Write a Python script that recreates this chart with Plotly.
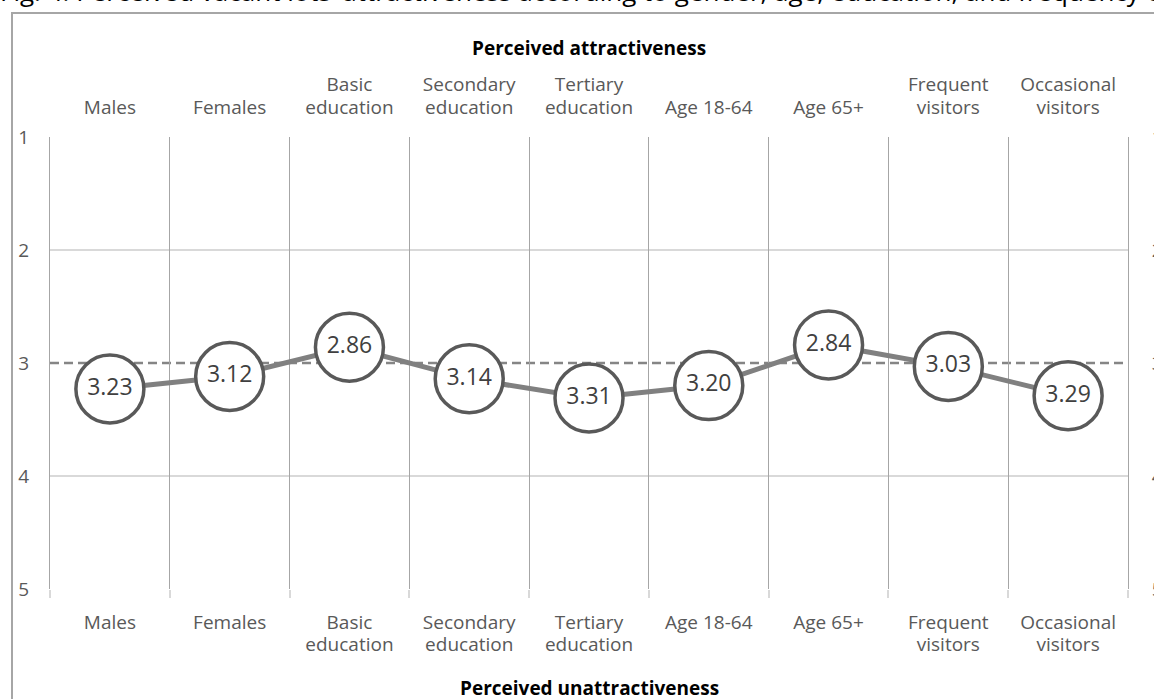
import plotly.graph_objects as go

categories = ["Males", "Females", "Basic<br>education", "Secondary<br>education",
              "Tertiary<br>education", "Age 18-64", "Age 65+",
              "Frequent<br>visitors", "Occasional<br>visitors"]
values = [3.23, 3.12, 2.86, 3.14, 3.31, 3.20, 2.84, 3.03, 3.29]
y_ticks = [1, 2, 3, 4, 5]
midpoint = 3

FONT = "Open Sans"
W, H = 1154, 699
ML, MR, MT, MB = 50, 26, 137, 110
PW = W - ML - MR
PH = H - MT - MB
LABEL_PX = 19


def px_x(p):
    return (p - ML) / PW


def px_y(p):
    return (H - MB - p) / PH


def styled(label):
    return "<br>".join(f'<span style="font-size:{LABEL_PX}px">{part}</span>'
                       for part in label.split("<br>"))


tick_text = [styled(c) for c in categories]
grid_vals = [t for t in y_ticks if t != midpoint]

fig = go.Figure()

fig.add_trace(go.Scatter(
    x=categories, y=values, mode="lines+markers+text",
    line=dict(color="#808080", width=5),
    marker=dict(size=68, color="white", line=dict(color="#595959", width=3.5)),
    text=[f"{v:.2f}" for v in values], textposition="middle center",
    textfont=dict(family=FONT, size=23, color="#404040"),
    showlegend=False, hoverinfo="skip", cliponaxis=False,
))
fig.add_trace(go.Scatter(
    x=categories, y=values, xaxis="x2", yaxis="y2", mode="markers",
    marker=dict(opacity=0), showlegend=False, hoverinfo="skip",
))

fig.add_shape(type="line", xref="x domain", x0=0, x1=1, yref="y", y0=midpoint, y1=midpoint,
              line=dict(color="#858585", width=2.5, dash="9px,5px"), layer="below")

# outer frame
fig.add_shape(type="rect", xref="paper", yref="paper",
              x0=px_x(12), x1=px_x(1200), y0=px_y(760), y1=px_y(13),
              line=dict(color="#a6a6a6", width=2), fillcolor="rgba(0,0,0,0)", layer="below")

fig.add_annotation(text="Fig. 4. Perceived vacant lots\u2019 attractiveness according to gender, age, education, and frequency of",
                   xref="paper", yref="paper", x=px_x(-2), y=px_y(11), xanchor="left", yanchor="bottom",
                   showarrow=False, font=dict(family=FONT, size=26, color="#000000"))
fig.add_annotation(text="<b>Perceived attractiveness</b>", xref="paper", yref="paper",
                   x=0.5, y=px_y(48), xanchor="center", yanchor="middle", showarrow=False,
                   font=dict(family=FONT, size=19, color="#000000"))
fig.add_annotation(text="<b>Perceived unattractiveness</b>", xref="paper", yref="paper",
                   x=0.5, y=px_y(688), xanchor="center", yanchor="middle", showarrow=False,
                   font=dict(family=FONT, size=19, color="#000000"))

tickfont = dict(family=FONT, size=17, color="#595959")
yfont = dict(family=FONT, size=19, color="#595959")

fig.update_layout(
    width=W, height=H,
    margin=dict(l=ML, r=MR, t=MT, b=MB, pad=0, autoexpand=False),
    paper_bgcolor="white", plot_bgcolor="white",
    xaxis=dict(type="category", categoryorder="array", categoryarray=categories,
               tickmode="array", tickvals=categories, ticktext=tick_text,
               tickson="boundaries", showgrid=True, gridcolor="#a6a6a6", gridwidth=1,
               ticks="outside", ticklen=8, tickcolor="#d9d9d9", tickwidth=2,
               tickfont=tickfont, ticklabelstandoff=22, showline=False, zeroline=False,
               range=[-0.5, 8.5], automargin=False),
    xaxis2=dict(type="category", categoryorder="array", categoryarray=categories,
                tickmode="array", tickvals=categories, ticktext=tick_text,
                overlaying="x", side="top", showgrid=False, ticks="",
                tickfont=tickfont, ticklabelstandoff=19, showline=False, zeroline=False,
                range=[-0.5, 8.5], automargin=False),
    yaxis=dict(range=[5, 1], tickvals=y_ticks, showgrid=False,
               minor=dict(tickvals=grid_vals, showgrid=True, gridcolor="#d9d9d9", gridwidth=1.5, ticks=""),
               ticks="", tickfont=yfont, ticklabelstandoff=16,
               showline=True, linecolor="#a6a6a6", linewidth=1, zeroline=False, automargin=False),
    yaxis2=dict(range=[5, 1], tickvals=y_ticks, overlaying="y", side="right", showgrid=False,
                ticks="", tickfont=yfont, ticklabelstandoff=19,
                showline=True, linecolor="#a6a6a6", linewidth=1, zeroline=False, automargin=False),
)

fig.write_html("out.html")
